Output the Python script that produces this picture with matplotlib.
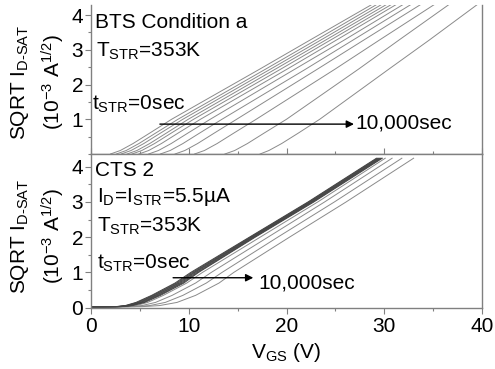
import numpy as np
import matplotlib
matplotlib.use("Agg")
import matplotlib.pyplot as plt
from matplotlib.ticker import MultipleLocator

plt.rcParams['font.family'] = ['Liberation Sans', 'DejaVu Sans']
plt.rcParams['mathtext.fontset'] = 'custom'
plt.rcParams['mathtext.rm'] = 'Liberation Sans'
plt.rcParams['mathtext.it'] = 'Liberation Sans:italic'
plt.rcParams['mathtext.bf'] = 'Liberation Sans:bold'

#%% data

# top panel (BTS): x position (V_GS) of each curve at these sqrt(I) levels
bts_levels = [0, 0.1, 0.3, 0.6, 1.0, 2.45, 3.28, 4.3]
bts_curves = [
    [2.0, 3.0, 4.3, 6.0, 8.25, 17.3, 22.4, 28.7],
    [2.6, 3.6, 4.9, 6.6, 8.9, 17.9, 23.0, 29.2],
    [3.1, 4.1, 5.4, 7.1, 9.4, 18.4, 23.5, 29.7],
    [3.7, 4.7, 6.0, 7.7, 9.95, 18.9, 24.0, 30.2],
    [4.2, 5.2, 6.5, 8.2, 10.5, 19.45, 24.5, 30.7],
    [4.9, 5.9, 7.2, 8.9, 11.2, 20.1, 25.1, 31.2],
    [5.9, 6.9, 8.2, 9.9, 12.2, 20.9, 25.9, 31.9],
    [7.1, 8.1, 9.4, 11.1, 13.4, 22.0, 26.8, 32.7],
    [8.6, 9.6, 10.9, 12.6, 14.9, 23.2, 27.9, 33.7],
    [10.6, 11.6, 12.9, 14.6, 16.9, 25.0, 29.5, 35.1],
    [13.7, 14.7, 16.0, 17.7, 20.0, 27.4, 31.5, 36.6],
    [17.3, 18.2, 19.5, 21.2, 23.4, 30.5, 34.6, 39.5],
]

# bottom panel (CTS): tight band of curves plus a few shifted ones
cts_levels = [0.02, 0.03, 0.06, 0.15, 0.35, 0.7, 1.0, 2.0, 3.0, 4.24]
cts_band = [
    [0, 2.5, 3.5, 4.6, 6.2, 8.6, 10.2, 16.2, 22.2, 29.2],
    [0, 2.6, 3.6, 4.75, 6.35, 8.75, 10.35, 16.3, 22.3, 29.3],
    [0, 2.7, 3.7, 4.9, 6.5, 8.9, 10.5, 16.4, 22.4, 29.4],
    [0, 2.8, 3.85, 5.05, 6.65, 9.05, 10.6, 16.5, 22.5, 29.5],
    [0, 2.9, 4.0, 5.2, 6.8, 9.2, 10.75, 16.6, 22.6, 29.6],
    [0, 3.0, 4.1, 5.35, 6.95, 9.35, 10.9, 16.7, 22.7, 29.7],
    [0, 3.1, 4.25, 5.5, 7.1, 9.5, 11.0, 16.8, 22.8, 29.8],
]
cts_shifted = [
    [0, 3.4, 4.6, 5.8, 7.4, 9.8, 11.4, 17.3, 23.2, 30.1],
    [0, 3.8, 5.2, 6.6, 8.3, 10.7, 12.3, 18.1, 23.9, 30.8],
    [0, 4.4, 6.0, 7.6, 9.4, 11.8, 13.4, 19.1, 24.9, 31.8],
    [0, 5.2, 7.0, 8.8, 10.7, 13.1, 14.6, 20.3, 26.1, 33.0],
]

xticks = [0, 10, 20, 30, 40]
yticks_top = [1, 2, 3, 4]
yticks_bot = [0, 1, 2, 3, 4]

#%% figure

fig = plt.figure(figsize=(4.95, 3.69), dpi=100)
ax1 = fig.add_axes([0.1838, 0.5827, 0.790, 0.4037])
ax2 = fig.add_axes([0.1838, 0.1661, 0.790, 0.4166])

spine_c = '#808080'
fs = 15

for ax in (ax1, ax2):
    ax.set_xlim(0, 40)
    ax.set_xticks(xticks)
    ax.xaxis.set_minor_locator(MultipleLocator(5))
    ax.yaxis.set_minor_locator(MultipleLocator(0.5))
    for s in ax.spines.values():
        s.set_color(spine_c)
        s.set_linewidth(1.0)
    ax.tick_params(which='major', length=4, width=0.8, color=spine_c,
                   labelsize=fs, pad=1.5)
    ax.tick_params(which='minor', length=2.5, width=0.8, color=spine_c)

ax1.set_ylim(0, 4.29)
ax1.set_yticks(yticks_top)
ax1.tick_params(axis='x', which='both', direction='in', labelbottom=False)
ax1.spines['top'].set_visible(False)

ax2.set_ylim(0, 4.36)
ax2.set_yticks(yticks_bot)
ax2.tick_params(axis='x', which='major', pad=3)

for xs in bts_curves:
    ax1.plot(xs, bts_levels, color='#8a8a8a', lw=0.7)

for xs in cts_shifted:
    ax2.plot(xs, cts_levels, color='#8a8a8a', lw=0.7)
for xs in cts_band:
    ax2.plot(xs, cts_levels, color='#444444', lw=0.7)

ax1.text(0.41, 3.63, 'BTS Condition a', fontsize=fs, va='baseline')
ax1.text(0.5, 2.79, r'T$_\mathrm{STR}$=353K', fontsize=fs, va='baseline')
ax1.text(0.15, 1.27, r't$_\mathrm{STR}$=0sec', fontsize=fs, va='baseline')
ax1.annotate('', xy=(26.9, 0.86), xytext=(7.05, 0.86),
             arrowprops=dict(arrowstyle='-|>', color='black', lw=1.0,
                             mutation_scale=11, shrinkA=0, shrinkB=0))
ax1.text(27.0, 0.88, '10,000sec', fontsize=fs, va='center')

ax2.text(0.4, 3.74, 'CTS 2', fontsize=fs, va='baseline')
ax2.text(0.58, 3.01, r'I$_\mathrm{D}$=I$_\mathrm{STR}$=5.5µA', fontsize=fs,
         va='baseline')
ax2.text(0.58, 2.16, r'T$_\mathrm{STR}$=353K', fontsize=fs, va='baseline')
ax2.text(0.6, 1.12, r't$_\mathrm{STR}$=0sec', fontsize=fs, va='baseline')
ax2.annotate('', xy=(16.6, 0.85), xytext=(8.4, 0.85),
             arrowprops=dict(arrowstyle='-|>', color='black', lw=1.0,
                             mutation_scale=11, shrinkA=0, shrinkB=0))
ax2.text(17.1, 0.70, '10,000sec', fontsize=fs, va='center')

ax2.set_xlabel(r'V$_\mathrm{GS}$ (V)', fontsize=fs, labelpad=3)

# two-line y labels, one pair per panel
ylab1 = 'SQRT I$_\\mathrm{D\u2010SAT}$'
ylab2 = '(10$^{-3}$ A$^{1/2}$)'
for yc in (0.778, 0.360):
    fig.text(0.040, yc, ylab1, rotation=90, fontsize=fs, ha='center', va='center')
    fig.text(0.107, yc, ylab2, rotation=90, fontsize=fs, ha='center', va='center')

fig.savefig('out.png', dpi=100)
